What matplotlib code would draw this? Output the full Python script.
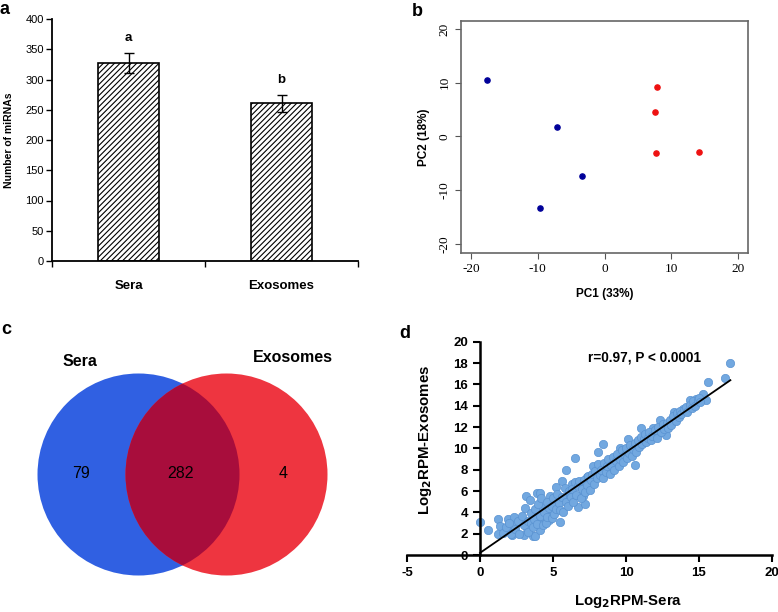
import matplotlib
matplotlib.use("Agg")
import matplotlib.pyplot as plt
import numpy as np
from matplotlib.patches import Circle

plt.rcParams['font.family'] = ['Liberation Sans', 'DejaVu Sans']
plt.rcParams['hatch.linewidth'] = 0.8
plt.rcParams['axes.unicode_minus'] = False

# ---------------- data ----------------
# panel a
bar_categories = ["Sera", "Exosomes"]
bar_values = [327, 261]
bar_errors = [17, 14]
bar_letters = ["a", "b"]

# panel b (PCA)
pc_sera_x = [-17.6, -7.1, -3.3, -9.7]
pc_sera_y = [10.5, 1.7, -7.3, -13.3]
pc_exo_x = [7.8, 7.5, 7.7, 14.1]
pc_exo_y = [9.2, 4.6, -3.0, -2.8]

# panel c (Venn counts)
venn_labels = ["Sera", "Exosomes"]
venn_only_sera = 79
venn_shared = 282
venn_only_exo = 4

# panel d (log2 RPM)
log_sera = [0.0, 0.57, 1.25, 1.4, 1.25, 1.9, 2.05, 2.3, 2.2, 2.5, 2.85, 3.0, 3.1, 3.15,
            3.2, 3.4, 3.5, 3.65, 3.8, 3.9, 4.1, 4.0, 4.1, 4.2, 4.4, 4.55, 4.7, 4.8, 5.0,
            5.1, 5.2, 5.45, 5.6, 5.7, 5.9, 6.5, 6.1, 6.3, 6.7, 7.05, 7.2, 7.3, 7.75, 8.1,
            8.4, 8.9, 9.6, 10.15, 10.65, 11.05, 11.85, 12.1, 12.35, 12.75, 13.3, 14.35,
            15.5, 15.65, 16.8, 17.15, 15.25, 14.8, 13.9,
            1.6, 1.8, 2.0, 2.1, 2.4, 2.6, 2.7, 2.9, 3.0, 3.3, 3.3, 3.5, 3.6,
            3.7, 3.8, 3.9, 4.0, 4.1, 4.2, 4.3, 4.4, 4.5, 4.6, 4.6, 4.7, 4.9, 4.9, 5.0,
            5.1, 5.2, 5.3, 5.4, 5.5, 5.6, 5.7, 5.8, 5.9,
            6.0, 6.1, 6.2, 6.3, 6.4, 6.5, 6.6, 6.7, 6.8, 6.9, 7.0, 7.1, 7.2, 7.3, 7.4,
            7.5, 7.6, 7.7, 7.8, 7.9, 8.0, 8.1, 8.2,
            8.3, 8.4, 8.5, 8.6, 8.7, 8.8, 8.9, 9.0, 9.1, 9.2, 9.3, 9.4, 9.5, 9.6, 9.7,
            9.8, 9.9, 10.0, 10.1, 10.2, 10.3, 10.4, 10.5,
            10.6, 10.7, 10.8, 10.9, 11.0, 11.1, 11.2, 11.3, 11.4, 11.5, 11.6, 11.7, 11.8,
            12.0, 12.1, 12.2, 12.4, 12.5, 12.6, 12.8, 12.9, 13.0,
            13.1, 13.2, 13.4, 13.5, 13.6, 13.7, 13.8, 14.0, 14.1, 14.2, 14.4, 14.5, 14.6,
            14.7, 14.9, 15.0, 15.1]
log_exo = [3.1, 2.3, 3.4, 2.7, 2.0, 3.4, 2.3, 3.6, 1.9, 3.0, 3.3, 1.9, 4.4, 5.5,
           2.5, 5.2, 3.9, 1.8, 1.8, 5.8, 5.8, 3.3, 2.3, 4.5, 3.6, 4.2, 3.3, 5.5, 3.9,
           4.8, 6.4, 3.1, 6.9, 5.2, 8.0, 9.1, 5.8, 6.7, 4.5, 5.5, 4.8, 7.3, 8.3, 9.7,
           10.4, 8.9, 10.0, 10.9, 8.4, 11.9, 11.9, 11.25, 12.65, 11.25, 13.4, 14.5,
           14.5, 16.25, 16.6, 18.0, 15.1, 14.6, 13.7,
           2.1, 2.6, 3.0, 2.0, 2.4, 3.2, 2.0, 3.7, 2.8, 3.2, 2.2, 3.0, 2.6,
           3.4, 4.3, 2.9, 4.8, 3.7, 5.3, 2.8, 4.0, 3.0, 5.0, 3.6, 4.4, 3.5, 4.6, 5.3,
           3.8, 4.3, 5.7, 4.9, 4.2, 5.4, 4.0, 6.3, 5.0,
           4.6, 6.0, 5.4, 6.2, 5.0, 6.8, 5.6, 6.5, 6.9, 5.3, 6.2, 7.0, 5.9, 6.6, 7.4,
           6.1, 7.0, 7.6, 6.7, 7.9, 7.2, 8.5, 7.5,
           8.0, 7.2, 8.6, 7.8, 8.3, 9.0, 7.6, 8.4, 9.2, 8.0, 8.8, 9.5, 8.3, 9.0, 9.8,
           8.7, 9.4, 10.0, 9.1, 9.6, 10.3, 9.3, 9.9,
           10.5, 9.7, 10.8, 10.1, 11.1, 10.4, 10.9, 11.3, 10.6, 11.0, 11.5, 10.8, 11.2,
           11.7, 11.0, 12.0, 11.5, 12.3, 11.8, 12.4, 11.9, 12.7,
           12.2, 13.0, 12.6, 13.3, 12.9, 13.5, 13.2, 13.6, 13.9, 13.4, 14.1, 13.8, 14.4,
           14.0, 14.5, 14.7, 14.3]
corr_text = "r=0.97, P < 0.0001"

# ---------------- figure ----------------
W, H = 778, 612
fig = plt.figure(figsize=(W / 100, H / 100), dpi=100)


def rect(l, t, r, b):
    return [l / W, 1 - b / H, (r - l) / W, (b - t) / H]


# ---- panel a ----
axa = fig.add_axes(rect(52, 19, 358, 261))
xpos = np.arange(len(bar_categories))
axa.bar(xpos, bar_values, width=0.4, color="white", edgecolor="black",
        linewidth=1.2, hatch="//////", zorder=2)
axa.errorbar(xpos, bar_values, yerr=bar_errors, fmt="none", ecolor="black",
             elinewidth=1.0, capsize=3.5, capthick=1.0, zorder=3)
for x, v, e, lt in zip(xpos, bar_values, bar_errors, bar_letters):
    axa.text(x, v + e + 14, lt, ha="center", va="bottom", fontsize=9.5,
             fontweight="bold")
axa.set_xlim(-0.5, 1.5)
axa.set_ylim(0, 400)
axa.set_yticks(np.arange(0, 401, 50))
axa.set_xticks(xpos)
axa.set_xticklabels(bar_categories, fontsize=9.5, fontweight="bold")
axa.set_xticks([-0.5, 0.5, 1.5], minor=True)
axa.tick_params(axis="x", which="major", length=0, pad=14)
axa.tick_params(axis="x", which="minor", length=4, width=1.0, direction="out")
axa.tick_params(axis="y", length=4, width=1.0, labelsize=8, pad=2)
for s in ["top", "right"]:
    axa.spines[s].set_visible(False)
for s in ["left", "bottom"]:
    axa.spines[s].set_linewidth(1.3)
axa.set_ylabel("Number of miRNAs", fontsize=7.5, fontweight="bold", labelpad=8)

# ---- panel b ----
axb = fig.add_axes(rect(461, 21, 748, 253))
axb.scatter(pc_sera_x, pc_sera_y, s=14, color="#000099", zorder=3)
axb.scatter(pc_exo_x, pc_exo_y, s=14, color="#ee1111", zorder=3)
axb.set_xlim(-21.5, 21.5)
axb.set_ylim(-21.7, 21.5)
axb.set_xticks([-20, -10, 0, 10, 20])
axb.set_yticks([-20, -10, 0, 10, 20])
for s in axb.spines.values():
    s.set_color("#666666")
    s.set_linewidth(1.2)
axb.tick_params(length=4, color="#555555", width=0.8)
for lab in axb.get_xticklabels() + axb.get_yticklabels():
    lab.set_fontfamily(["Liberation Serif", "DejaVu Serif"])
    lab.set_fontsize(9.5)
for lab in axb.get_yticklabels():
    lab.set_rotation(90)
    lab.set_va("center")
axb.set_xlabel("PC1 (33%)", fontsize=8.5, fontweight="bold", labelpad=9)
axb.set_ylabel("PC2 (18%)", fontsize=8.5, fontweight="bold", labelpad=6)

# ---- panel c ----
axc = fig.add_axes([0, 0, 390 / W, 312 / H])
axc.set_xlim(0, 390)
axc.set_ylim(612, 300)
axc.axis("off")
c1 = Circle((138.5, 474.5), 101, facecolor="#3060e2", edgecolor="none")
c2 = Circle((226.5, 474.5), 101, facecolor="#ee3540", edgecolor="none")
axc.add_patch(c1)
axc.add_patch(c2)
c3 = Circle((226.5, 474.5), 101, facecolor="#a80d3c", edgecolor="none")
axc.add_patch(c3)
c3.set_clip_path(c1)
axc.text(80, 361, venn_labels[0], ha="center", va="center", fontsize=11.5,
         fontweight="bold")
axc.text(293, 358, venn_labels[1], ha="center", va="center", fontsize=11.5,
         fontweight="bold")
axc.text(81, 474, str(venn_only_sera), ha="center", va="center", fontsize=11.5)
axc.text(181, 474, str(venn_shared), ha="center", va="center", fontsize=11.5)
axc.text(283, 474, str(venn_only_exo), ha="center", va="center", fontsize=11.5)

# ---- panel d ----
axd = fig.add_axes(rect(407, 341.7, 772, 555))
axd.scatter(log_sera, log_exo, s=36, color="#72a8e0", edgecolors="#5a93d2",
            linewidths=0.5, zorder=2)
slope, intercept = np.polyfit(log_sera, log_exo, 1)
xs = np.array([0, max(log_sera)])
axd.plot(xs, slope * xs + intercept, color="black", linewidth=1.3, zorder=3)
axd.set_xlim(-5, 20)
axd.set_ylim(0, 20)
axd.set_xticks([-5, 0, 5, 10, 15, 20])
axd.set_yticks(np.arange(0, 21, 2))
axd.spines["left"].set_position(("data", 0))
for s in ["top", "right"]:
    axd.spines[s].set_visible(False)
for s in ["left", "bottom"]:
    axd.spines[s].set_linewidth(1.8)
axd.tick_params(length=5, width=1.5, labelsize=9.5)
for lab in axd.get_xticklabels() + axd.get_yticklabels():
    lab.set_fontweight("bold")
axd.text(11.3, 18.5, corr_text, ha="center", va="center", fontsize=9.8,
         fontweight="bold")
fig.text(628 / W, 1 - 602 / H, "Log$_\\mathbf{2}$RPM-Sera", ha="center",
         va="center", fontsize=10.8, fontweight="bold")
fig.text(425 / W, 1 - 440 / H, "Log$_\\mathbf{2}$RPM-Exosomes", rotation=90,
         ha="center", va="center", fontsize=10.8, fontweight="bold")

# panel labels
for lab, (px, py) in zip("abcd", [(5, 10), (417, 12), (6, 330), (405, 333)]):
    fig.text(px / W, 1 - py / H, lab, fontsize=13, fontweight="bold",
             ha="center", va="center")

fig.savefig("out.png", dpi=100)
